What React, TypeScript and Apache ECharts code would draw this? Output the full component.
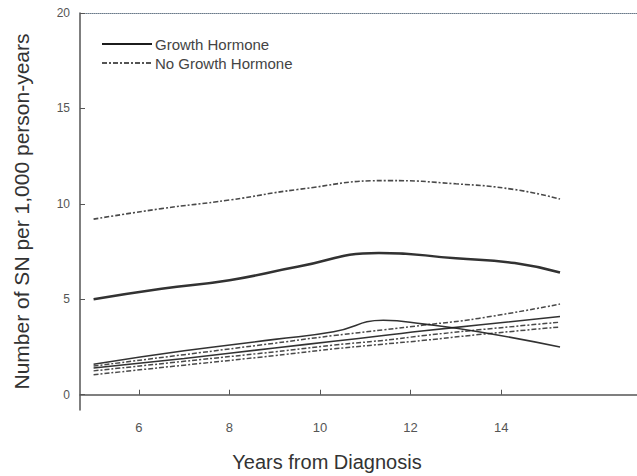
import React, { useEffect, useRef } from "react";
import * as echarts from "echarts";

const years = [5, 6.5, 8, 9.5, 11.3, 13, 14.3, 15.3];
const ghMain = [5.0, 5.55, 6.0, 6.7, 7.43, 7.15, 6.9, 6.4];
const upperYears = [5, 6.5, 8, 9.5, 11.5, 13, 14.3, 15.3];
const noGhUpper = [9.2, 9.75, 10.2, 10.75, 11.22, 11.05, 10.75, 10.25];

const bundleYears = [5, 7, 9, 10.3, 11.4, 12.3, 13.5, 15.3];
const bumpLine = [1.6, 2.3, 2.9, 3.3, 3.9, 3.7, 3.3, 2.5];
const bundleB = [1.5, 2.1, 2.7, 3.1, 3.4, 3.65, 4.0, 4.75];
const bundleC = [1.4, 1.9, 2.45, 2.8, 3.1, 3.35, 3.65, 4.1];
const bundleD = [1.25, 1.75, 2.25, 2.6, 2.85, 3.1, 3.4, 3.8];
const bundleE = [1.05, 1.55, 2.05, 2.4, 2.65, 2.85, 3.15, 3.55];

const xTicks = [6, 8, 10, 12, 14];
const yTicks = [0, 5, 10, 15, 20];

const GH = "Growth Hormone";
const NOGH = "No Growth Hormone";

const pair = (xs: number[], ys: number[]) => xs.map((x, i) => [x, ys[i]]);

export default function App() {
  const ref = useRef<HTMLDivElement>(null);
  useEffect(() => {
    if (!ref.current) return;
    const chart = echarts.init(ref.current, null, { renderer: "svg" });
    const ink = "#1c1c1c";
    const font = "Liberation Sans";
    const dash = [5, 2, 2, 2];
    const solid = (name: string, data: number[][], w: number) => ({
      type: "line",
      name,
      data,
      smooth: 0.5,
      showSymbol: false,
      symbol: "none",
      lineStyle: { color: ink, width: w, type: "solid", opacity: 0.9 },
      itemStyle: { color: ink },
    });
    const dashed = (name: string, data: number[][], w: number) => ({
      type: "line",
      name,
      data,
      smooth: 0.5,
      showSymbol: false,
      symbol: "none",
      lineStyle: { color: ink, width: w, type: dash, opacity: 0.8 },
      itemStyle: { color: ink },
    });
    chart.setOption({
      animation: false,
      backgroundColor: "#ffffff",
      textStyle: { fontFamily: font },
      grid: { left: 80, top: 13, right: 0, bottom: 66 },
      xAxis: [
        {
          type: "value",
          min: 4.7,
          max: 17,
          axisLine: { show: true, lineStyle: { color: "#555", width: 1.5 } },
          axisTick: { show: true, inside: true, length: 5, customValues: xTicks, lineStyle: { color: "#555" } },
          axisLabel: { customValues: xTicks, margin: 11, fontSize: 13, color: "#555", fontFamily: font },
          splitLine: { show: false },
        },
        {
          type: "value",
          position: "top",
          min: 4.7,
          max: 17,
          axisLine: { show: true, lineStyle: { color: "#6a7a8a", width: 1, type: "dotted" } },
          axisTick: { show: false },
          axisLabel: { show: false },
          splitLine: { show: false },
        },
      ],
      yAxis: {
        type: "value",
        min: -0.8,
        max: 20,
        name: "Number of SN per 1,000 person-years",
        nameLocation: "middle",
        nameGap: 48,
        nameTextStyle: { fontSize: 21, color: "#333", fontFamily: font },
        axisLine: { show: true, lineStyle: { color: "#555", width: 1.5 } },
        axisTick: { show: true, inside: true, length: 5, customValues: yTicks, lineStyle: { color: "#555" } },
        axisLabel: { customValues: yTicks, margin: 10, fontSize: 12, color: "#555", fontFamily: font },
        splitLine: { show: false },
      },
      series: [
        solid(GH, pair(years, ghMain), 2.5),
        dashed(NOGH, pair(upperYears, noGhUpper), 1.6),
        solid(GH, pair(bundleYears, bumpLine), 1.6),
        dashed(NOGH, pair(bundleYears, bundleB), 1.5),
        solid(GH, pair(bundleYears, bundleC), 1.6),
        dashed(NOGH, pair(bundleYears, bundleD), 1.5),
        dashed(NOGH, pair(bundleYears, bundleE), 1.5),
      ],
      graphic: [
        {
          type: "line",
          shape: { x1: 102, y1: 44, x2: 152, y2: 44 },
          style: { stroke: ink, lineWidth: 2 },
        },
        {
          type: "text",
          x: 155,
          y: 44,
          style: { text: GH, fontSize: 15, fontFamily: font, fill: "#444", textVerticalAlign: "middle" },
        },
        {
          type: "line",
          shape: { x1: 102, y1: 63, x2: 152, y2: 63 },
          style: { stroke: ink, lineWidth: 1.5, lineDash: dash },
        },
        {
          type: "text",
          x: 155,
          y: 63,
          style: { text: NOGH, fontSize: 15, fontFamily: font, fill: "#444", textVerticalAlign: "middle" },
        },
        {
          type: "text",
          x: 327,
          y: 462,
          style: {
            text: "Years from Diagnosis",
            fontSize: 20,
            fontFamily: font,
            fill: "#333",
            textAlign: "center",
            textVerticalAlign: "middle",
          },
        },
      ],
    });
    return () => chart.dispose();
  }, []);
  return <div ref={ref} style={{ width: 637, height: 476, position: "absolute", left: 0, top: 0 }} />;
}
